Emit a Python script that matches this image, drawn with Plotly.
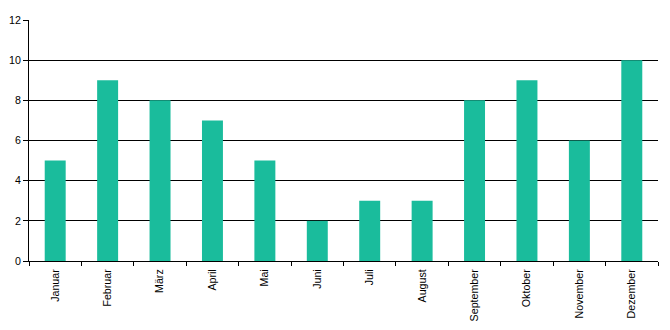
import plotly.graph_objects as go

months = ["Januar", "Februar", "März", "April", "Mai", "Juni", "Juli", "August",
          "September", "Oktober", "November", "Dezember"]
values = [5, 9, 8, 7, 5, 2, 3, 3, 8, 9, 6, 10]
y_ticks = [0, 2, 4, 6, 8, 10, 12]

fig = go.Figure(go.Bar(x=months, y=values, marker_color="#1abc9c", marker_line_width=0))

fig.update_layout(
    width=670, height=330,
    margin=dict(l=29, r=12, t=20, b=69),
    paper_bgcolor="white", plot_bgcolor="white",
    bargap=0.6,
    showlegend=False,
    font=dict(family="Liberation Sans, Arial, sans-serif", size=10.67, color="black"),
)
fig.update_xaxes(
    type="category", tickangle=-90, ticks="outside", tickson="boundaries",
    ticklen=4, tickcolor="black", showline=True, linecolor="black", linewidth=1,
    showgrid=False, tickfont=dict(size=10.67), automargin=False,
    ticklabelstandoff=3,
)
fig.update_yaxes(
    range=[0, 12], tickvals=y_ticks, ticks="outside", ticklen=5, tickcolor="black",
    showline=True, linecolor="black", linewidth=1,
    showgrid=True, gridcolor="black", gridwidth=1, zeroline=False,
    tickfont=dict(size=10.67), automargin=False,
)

fig.write_html("out.html")
